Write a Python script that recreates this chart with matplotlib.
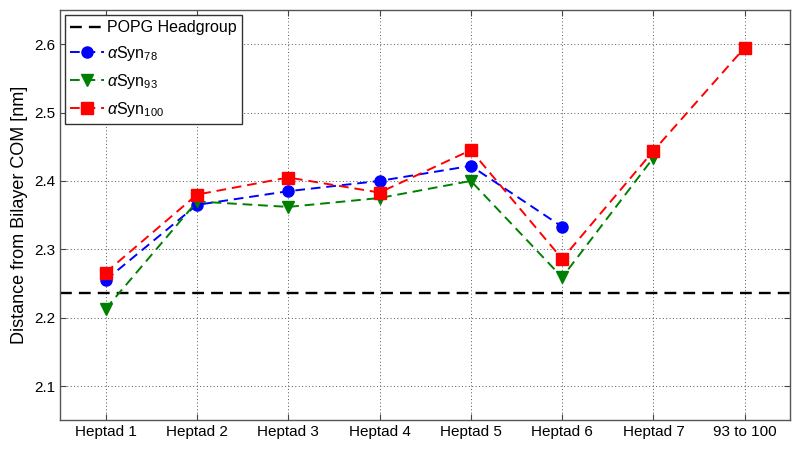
import matplotlib
matplotlib.use("Agg")
import matplotlib.pyplot as plt

plt.rcParams['font.family'] = ['Liberation Sans', 'DejaVu Sans']
plt.rcParams['mathtext.fontset'] = 'custom'
plt.rcParams['mathtext.rm'] = 'Liberation Sans'
plt.rcParams['mathtext.it'] = 'Liberation Sans:italic'

categories = ["Heptad 1", "Heptad 2", "Heptad 3", "Heptad 4", "Heptad 5", "Heptad 6", "Heptad 7", "93 to 100"]
syn78 = [2.255, 2.365, 2.385, 2.400, 2.422, 2.333]
syn93 = [2.213, 2.370, 2.362, 2.375, 2.400, 2.259, 2.434]
syn100 = [2.266, 2.380, 2.405, 2.383, 2.445, 2.286, 2.444, 2.595]
headgroup = 2.236
yticks = [2.1, 2.2, 2.3, 2.4, 2.5, 2.6]

fig = plt.figure(figsize=(8, 4.51), dpi=100)
ax = fig.add_axes([0.075, 0.068, 0.913, 0.91])

x_all = list(range(1, len(categories) + 1))
ax.axhline(headgroup, color='black', linestyle=(0, (5, 3)), linewidth=1.7, label='POPG Headgroup')
ax.plot(x_all[:len(syn78)], syn78, color='blue', linestyle=(0, (5, 3)), linewidth=1.4,
        marker='o', markersize=8, label=r'$\alpha$Syn$_{78}$')
ax.plot(x_all[:len(syn93)], syn93, color='green', linestyle=(0, (5, 3)), linewidth=1.4,
        marker='v', markersize=9, label=r'$\alpha$Syn$_{93}$')
ax.plot(x_all[:len(syn100)], syn100, color='red', linestyle=(0, (5, 3)), linewidth=1.4,
        marker='s', markersize=8, label=r'$\alpha$Syn$_{100}$')

ax.set_xlim(0.5, 8.5)
ax.set_ylim(2.05, 2.65)
ax.set_xticks(x_all)
ax.set_xticklabels(categories, fontsize=11)
ax.set_yticks(yticks)
ax.set_yticklabels([f"{v:.1f}" for v in yticks], fontsize=11)
ax.grid(True, linestyle=(0, (1, 2.5)), color='#555555', linewidth=0.7)
ax.tick_params(direction='in', top=True, right=True, length=4, color='#444444')
for s in ax.spines.values():
    s.set_color('#555555')
    s.set_linewidth(1.0)
ax.set_ylabel('Distance from Bilayer COM [nm]', fontsize=13)

leg = ax.legend(loc='upper left', fontsize=11.5, frameon=True, fancybox=False,
                edgecolor='#333333', framealpha=1, borderpad=0.35, labelspacing=0.55,
                handlelength=2.1, handletextpad=0.2, borderaxespad=0.3)
leg.get_frame().set_linewidth(1.0)

fig.savefig('out.png', dpi=100)
